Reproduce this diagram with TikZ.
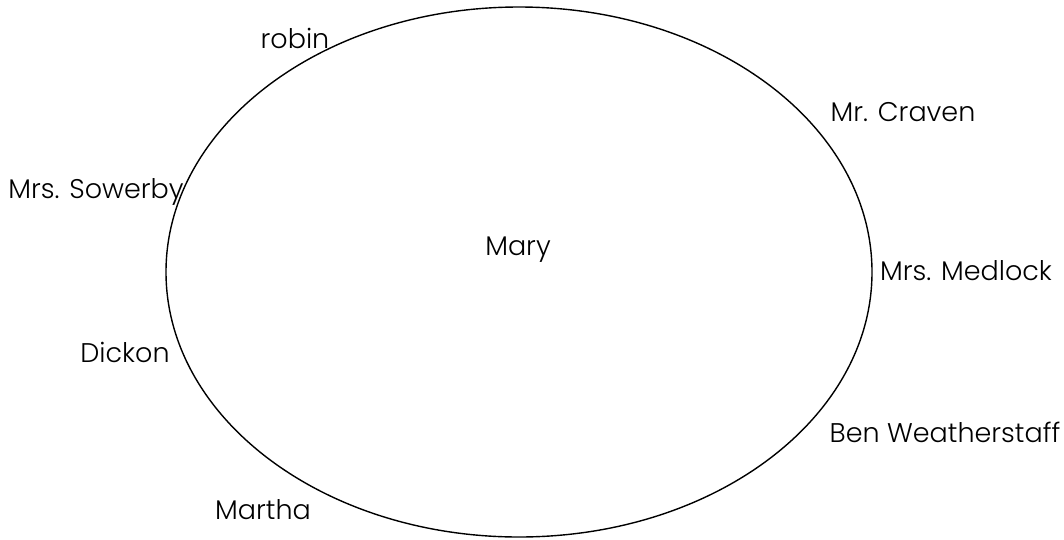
\documentclass[tikz,border=0pt]{standalone}
\usepackage{fontspec}
\setmainfont{Poppins}[UprightFont=* Light]
\begin{document}
\begin{tikzpicture}[x=1pt,y=-1pt,
  lbl/.style={font=\fontsize{27}{32}\selectfont, inner sep=0pt, anchor=center}]
\useasboundingbox (0,0) rectangle (1064,539);
\draw[line width=1.4pt] (519,272) ellipse [x radius=353, y radius=265];
\node[lbl] (mary) at (518,250) {Mary};
\node[lbl] (robin) at (295,38) {robin};
\node[lbl] (craven) at (903,112) {Mr. Craven};
\node[lbl] (sowerby) at (96,192) {Mrs. Sowerby};
\node[lbl] (medlock) at (966,271) {Mrs. Medlock};
\node[lbl] (dickon) at (125,352) {Dickon};
\node[lbl] (ben) at (945,432) {Ben Weatherstaff};
\node[lbl] (martha) at (263,510) {Martha};
\end{tikzpicture}
\end{document}
